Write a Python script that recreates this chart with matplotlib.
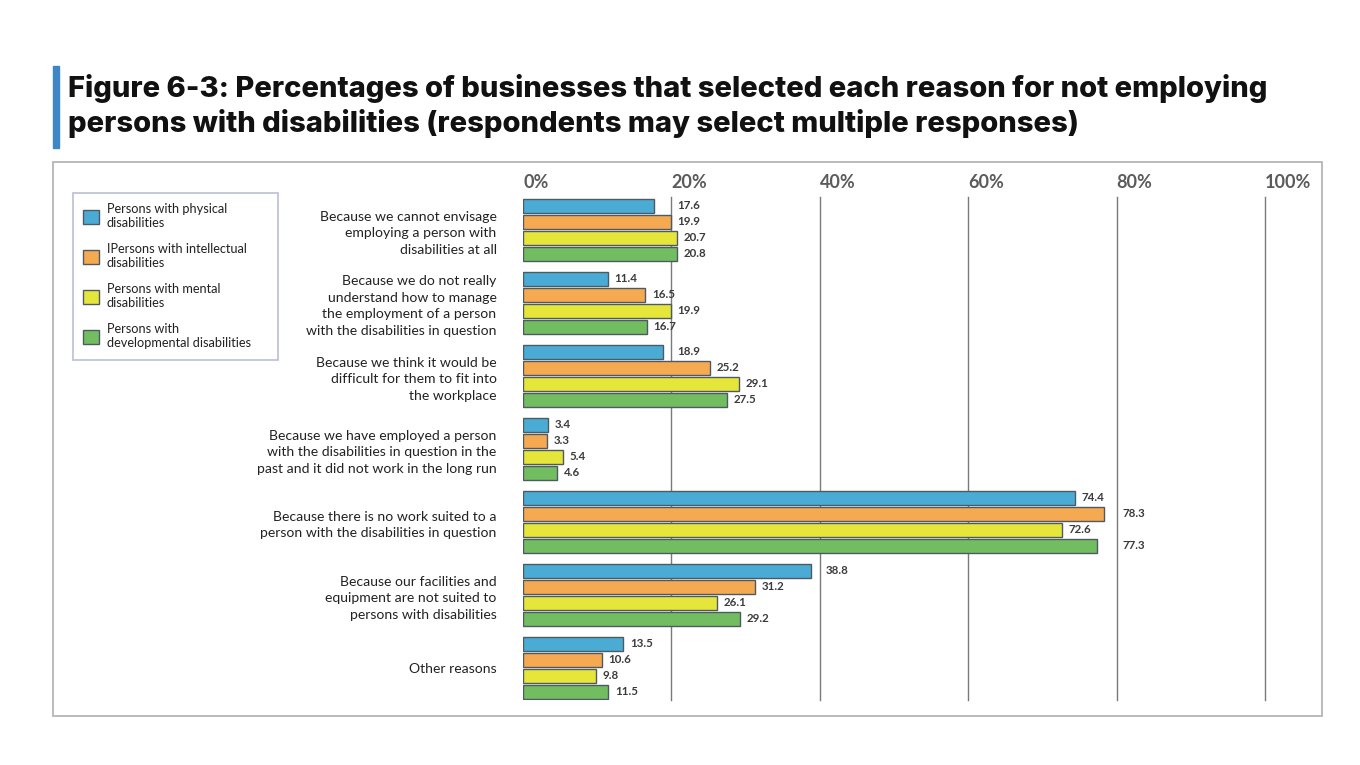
import numpy as np
import matplotlib
matplotlib.use("Agg")
import matplotlib.pyplot as plt
from matplotlib.patches import Rectangle

# data
reasons = [
    "Because we cannot envisage\nemploying a person with\ndisabilities at all",
    "Because we do not really\nunderstand how to manage\nthe employment of a person\nwith the disabilities in question",
    "Because we think it would be\ndifficult for them to fit into\nthe workplace",
    "Because we have employed a person\nwith the disabilities in question in the\npast and it did not work in the long run",
    "Because there is no work suited to a\nperson with the disabilities in question",
    "Because our facilities and\nequipment are not suited to\npersons with disabilities",
    "Other reasons",
]
series_names = [
    "Persons with physical\ndisabilities",
    "IPersons with intellectual\ndisabilities",
    "Persons with mental\ndisabilities",
    "Persons with\ndevelopmental disabilities",
]
physical = [17.6, 11.4, 18.9, 3.4, 74.4, 38.8, 13.5]
intellectual = [19.9, 16.5, 25.2, 3.3, 78.3, 31.2, 10.6]
mental = [20.7, 19.9, 29.1, 5.4, 72.6, 26.1, 9.8]
developmental = [20.8, 16.7, 27.5, 4.6, 77.3, 29.2, 11.5]
x_ticks = [0, 20, 40, 60, 80, 100]
x_tick_labels = ["0%", "20%", "40%", "60%", "80%", "100%"]

colors = ["#4aabd5", "#f5aa52", "#e6e63a", "#72bd5f"]
edge = "#4d5a63"

plt.rcParams["font.family"] = ["Lato", "DejaVu Sans"]

fig = plt.figure(figsize=(13.6, 7.65), dpi=100)
ax = fig.add_axes([523 / 1360, 65 / 765, 742 / 1360, 503 / 765])

all_series = [physical, intellectual, mental, developmental]
groups = np.arange(len(reasons))
step = 16 / 73
bar_h = 14 / 73
handles = []
for j, (vals, col, name) in enumerate(zip(all_series, colors, series_names)):
    y = groups + (j - 1.5) * step
    b = ax.barh(y, vals, height=bar_h, color=col, edgecolor=edge,
                linewidth=1.0, label=name, zorder=3)
    handles.append(b)
    for yi, v in zip(y, vals):
        # labels jump past a gridline when they would sit on it
        lx = v + 0.9
        for g in x_ticks[1:]:
            if v < g < v + 3:
                lx = g + 0.8
        ax.text(lx, yi, f"{v:.1f}", va="center", ha="left", fontsize=8.3,
                fontweight="bold", color="#3b3b3b", zorder=4)

for g in x_ticks[1:]:
    ax.axvline(g, color="#7a7a7a", linewidth=1.0, zorder=1, clip_on=False)

ax.set_xlim(0, 100)
ax.set_ylim(6.44, -0.45)
ax.xaxis.tick_top()
ax.set_xticks(x_ticks)
ax.set_xticklabels(x_tick_labels, fontsize=13, color="#5b5b5b", fontweight="bold")
for lab in ax.get_xticklabels():
    lab.set_horizontalalignment("left")
ax.tick_params(axis="x", length=0, pad=4)
ax.set_yticks(groups)
ax.set_yticklabels(reasons, fontsize=10.1, color="#222222", linespacing=1.45)
ax.tick_params(axis="y", length=0, pad=19)
for s in ax.spines.values():
    s.set_visible(False)

leg = fig.legend(handles=handles, loc="upper left", mode="expand",
                 bbox_to_anchor=(73 / 1360, 1 - 359 / 765, 205 / 1360, 166 / 765),
                 fontsize=9.2, frameon=True, fancybox=False,
                 edgecolor="#a9aec6", handlelength=1.25, handleheight=1.25,
                 handletextpad=0.6, labelspacing=1.1, borderpad=0.8,
                 borderaxespad=0)
leg.get_frame().set_linewidth(1.2)
for t in leg.get_texts():
    t.set_color("#222222")

# outer frame
fig.patches.append(Rectangle((53 / 1360, 1 - 716 / 765), 1269 / 1360, 554 / 765,
                             transform=fig.transFigure, fill=False,
                             edgecolor="#b5b5b5", linewidth=1.3))
# title accent bar
fig.patches.append(Rectangle((53 / 1360, 1 - 148 / 765), 6 / 1360, 82 / 765,
                             transform=fig.transFigure, color="#3e86c6"))

fig.text(68 / 1360, 1 - 106 / 765,
         "Figure 6-3: Percentages of businesses that selected each reason for not employing\n"
         "persons with disabilities (respondents may select multiple responses)",
         fontsize=21.0, fontweight="heavy", family=["Inter", "DejaVu Sans"],
         color="#111111", va="center", ha="left", linespacing=1.25)

fig.savefig("out.png", dpi=100)
